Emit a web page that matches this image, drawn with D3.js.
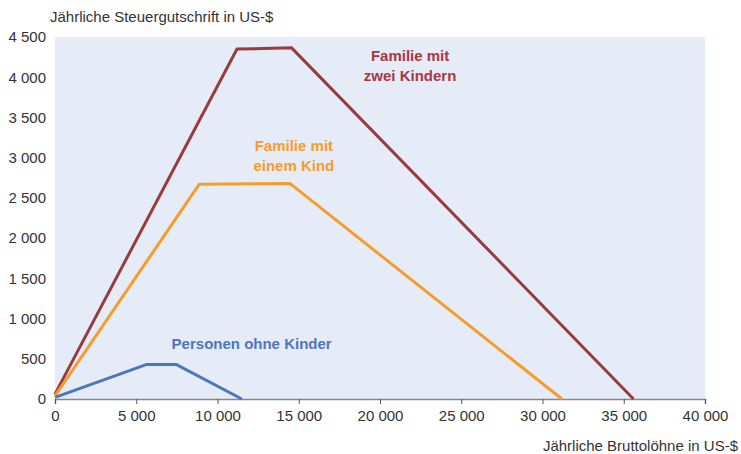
<!DOCTYPE html>
<html lang="de">
<head>
<meta charset="utf-8">
<title>Steuergutschrift</title>
<style>
  body { margin: 0; background: #fff; }
  text { font-family: "Liberation Sans", Arial, sans-serif; }
  .tick text { font-size: 15px; fill: #333; }
  .label { font-size: 15px; font-weight: bold; }
</style>
</head>
<body>
<div id="chart"></div>
<script src="https://cdn.jsdelivr.net/npm/d3@7"></script>
<script>
var width = 741,
    height = 454;

var margin = {top: 37, right: 36, bottom: 55, left: 55};

// Einkommen (US-$) und Steuergutschrift (US-$)
var keineKinder = [[0, 20], [5650, 430], [7450, 430], [11500, 0]];
var einKind = [[0, 40], [8880, 2670], [14450, 2680], [31200, 0]];
var zweiKinder = [[0, 60], [11200, 4350], [14560, 4365], [35600, 0]];

var xTicks = [0, 5000, 10000, 15000, 20000, 25000, 30000, 35000, 40000];
var yTicks = [0, 500, 1000, 1500, 2000, 2500, 3000, 3500, 4000, 4500];

var series = [
  {name: "zweiKinder", values: zweiKinder, color: "#983b3e", label: ["Familie mit", "zwei Kindern"], lx: 21850, ly: 4200, lc: "#a8373f"},
  {name: "einKind", values: einKind, color: "#f59d2c", label: ["Familie mit", "einem Kind"], lx: 14700, ly: 3080, lc: "#f59d2c"},
  {name: "keineKinder", values: keineKinder, color: "#4c77bd", label: ["Personen ohne Kinder"], lx: 12100, ly: 620, lc: "#4c77bd"}
];

var fmt = function(d) { return d3.format(",")(d).replace(/,/g, " "); };

var svg = d3.select("#chart")
    .append("svg")
    .attr("width", width)
    .attr("height", height);

var x = d3.scaleLinear().domain([0, 40000]).range([margin.left, width - margin.right]);
var y = d3.scaleLinear().domain([0, 4500]).range([height - margin.bottom, margin.top]);

svg.append("rect")
    .attr("x", x(0))
    .attr("y", y(4500))
    .attr("width", x(40000) - x(0))
    .attr("height", y(0) - y(4500))
    .attr("fill", "#e6ecf7");

var xAxis = svg.append("g")
    .attr("transform", "translate(0," + y(0) + ")")
    .call(d3.axisBottom(x).tickValues(xTicks).tickFormat(fmt).tickSizeOuter(0).tickSize(5).tickPadding(6));
xAxis.select(".domain").attr("stroke", "#888").attr("stroke-width", 1.5);
xAxis.selectAll(".tick line").attr("stroke", "#555");

var yAxis = svg.append("g")
    .attr("transform", "translate(" + (x(0) - 9) + ",0)")
    .call(d3.axisLeft(y).tickValues(yTicks).tickFormat(fmt).tickSize(0).tickPadding(0));
yAxis.select(".domain").remove();

var line = d3.line()
    .x(function(d) { return x(d[0]); })
    .y(function(d) { return y(d[1]); });

svg.selectAll("path.series")
    .data(series)
  .enter().append("path")
    .attr("class", "series")
    .attr("d", function(d) { return line(d.values); })
    .attr("fill", "none")
    .attr("stroke", function(d) { return d.color; })
    .attr("stroke-width", 3)
    .attr("stroke-linejoin", "round");

series.forEach(function(s) {
  var t = svg.append("text")
      .attr("class", "label")
      .attr("text-anchor", "middle")
      .attr("fill", s.lc)
      .attr("x", x(s.lx))
      .attr("y", y(s.ly));
  s.label.forEach(function(l, i) {
    t.append("tspan").attr("x", x(s.lx)).attr("dy", i ? 20 : 0).text(l);
  });
});

svg.append("text")
    .attr("x", 50)
    .attr("y", 22)
    .attr("font-size", 15)
    .attr("fill", "#333")
    .text("Jährliche Steuergutschrift in US-$");

svg.append("text")
    .attr("x", 738)
    .attr("y", 451)
    .attr("text-anchor", "end")
    .attr("font-size", 15)
    .attr("fill", "#333")
    .text("Jährliche Bruttolöhne in US-$");
</script>
</body>
</html>
